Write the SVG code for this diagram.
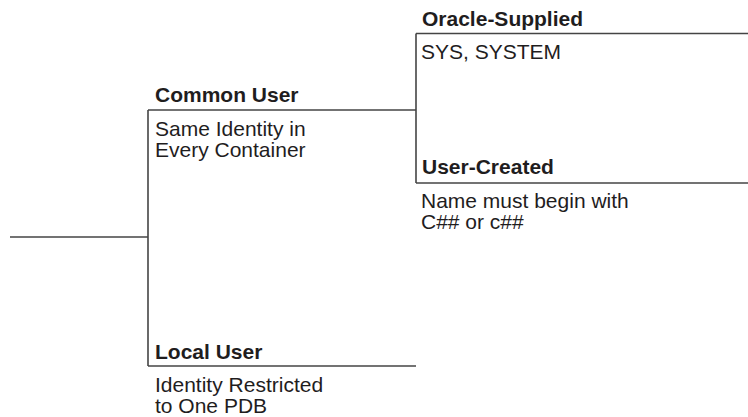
<svg xmlns="http://www.w3.org/2000/svg" width="748" height="417" viewBox="0 0 748 417">
<style>
.t{font-family:"Liberation Sans",Arial,sans-serif;font-size:21px;fill:#1f1d1e}
.b{font-weight:bold}
.ln{stroke:#444;stroke-width:1.6;fill:none}
</style>
<rect width="748" height="417" fill="#fff"/>
<g id="connectors">
<path class="ln" d="M10,237 H148"/>
<path class="ln" d="M148,110 V366"/>
<path class="ln" d="M416,33.5 V183"/>
</g>
<g id="common-user">
<text class="t b" x="155" y="102">Common User</text>
<path class="ln" d="M148,110 H416"/>
<text class="t" x="155" y="136">Same Identity in</text>
<text class="t" x="155" y="157">Every Container</text>
</g>
<g id="oracle-supplied">
<text class="t b" x="422" y="26">Oracle-Supplied</text>
<path class="ln" d="M416,33.5 H748"/>
<text class="t" x="421" y="59">SYS, SYSTEM</text>
</g>
<g id="user-created">
<text class="t b" x="422" y="174">User-Created</text>
<path class="ln" d="M416,183 H748"/>
<text class="t" x="421" y="208">Name must begin with</text>
<text class="t" x="421" y="229">C## or c##</text>
</g>
<g id="local-user">
<text class="t b" x="155" y="359">Local User</text>
<path class="ln" d="M148,366 H416"/>
<text class="t" x="155" y="392">Identity Restricted</text>
<text class="t" x="155" y="413">to One PDB</text>
</g>
</svg>
